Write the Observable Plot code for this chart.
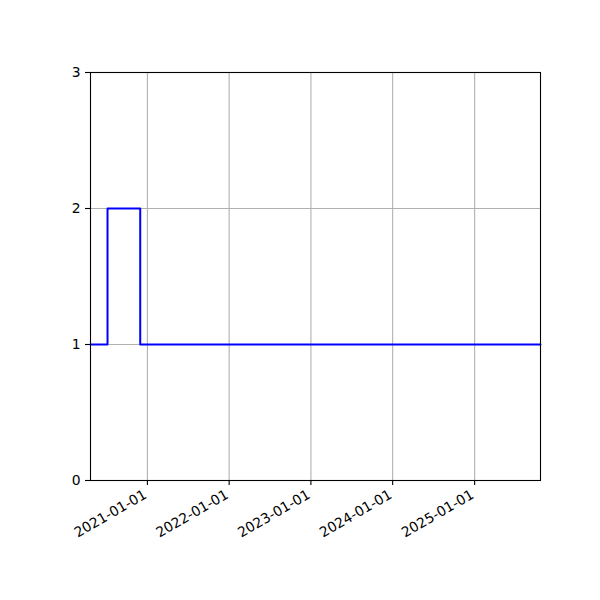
<!DOCTYPE html>
<html><head>
<meta charset="utf-8">
<script src="https://cdn.jsdelivr.net/npm/d3@7"></script>
<script src="https://cdn.jsdelivr.net/npm/@observablehq/plot@0.6"></script>
<style>html,body{margin:0;padding:0;background:#fff}</style>
</head><body><div id="chart"></div>
<script>
const dates = ["2020-04-22", "2020-07-07", "2020-11-30", "2025-10-22"];
const values = [1, 2, 1, 1];
const xTickLabels = ["2021-01-01", "2022-01-01", "2023-01-01", "2024-01-01", "2025-01-01"];
const yTicks = [0, 1, 2, 3];

const parse = s => new Date(s + "T00:00:00Z");
const data = dates.map((d, i) => ({date: parse(d), value: values[i]}));
const xTicks = xTickLabels.map(parse);
const fmt = d3.utcFormat("%Y-%m-%d");

const chart = Plot.plot({
  width: 600, height: 600,
  marginLeft: 90, marginRight: 60, marginTop: 72, marginBottom: 120,
  style: {fontFamily: "DejaVu Sans", fontSize: "13.9px", color: "black", background: "white", overflow: "visible"},
  x: {type: "utc", domain: [data[0].date, data[data.length - 1].date], label: null},
  y: {domain: [0, 3], label: null},
  marks: [
    Plot.gridX(xTicks, {stroke: "#b0b0b0", strokeOpacity: 1, strokeWidth: 1.1}),
    Plot.gridY([1, 2], {stroke: "#b0b0b0", strokeOpacity: 1, strokeWidth: 1.1}),
    Plot.line(data, {x: "date", y: "value", curve: "step-after", stroke: "#0000ff", strokeWidth: 2}),
    Plot.frame({stroke: "black", strokeWidth: 1.1}),
    Plot.axisX(xTicks, {label: null, tickSize: 5, tickFormat: () => "", stroke: "black", strokeWidth: 1.1}),
    Plot.axisX(xTicks, {label: null, tickSize: 0, tickPadding: 9, tickRotate: -30, textAnchor: "end", dy: 4, dx: -2, tickFormat: fmt, fontSize: 13.9}),
    Plot.axisY(yTicks, {label: null, tickSize: 5, tickPadding: 5, tickFormat: d => String(d), fontSize: 13.9, stroke: "black", strokeWidth: 1.1})
  ]
});
document.getElementById("chart").appendChild(chart);
</script>
</body></html>
